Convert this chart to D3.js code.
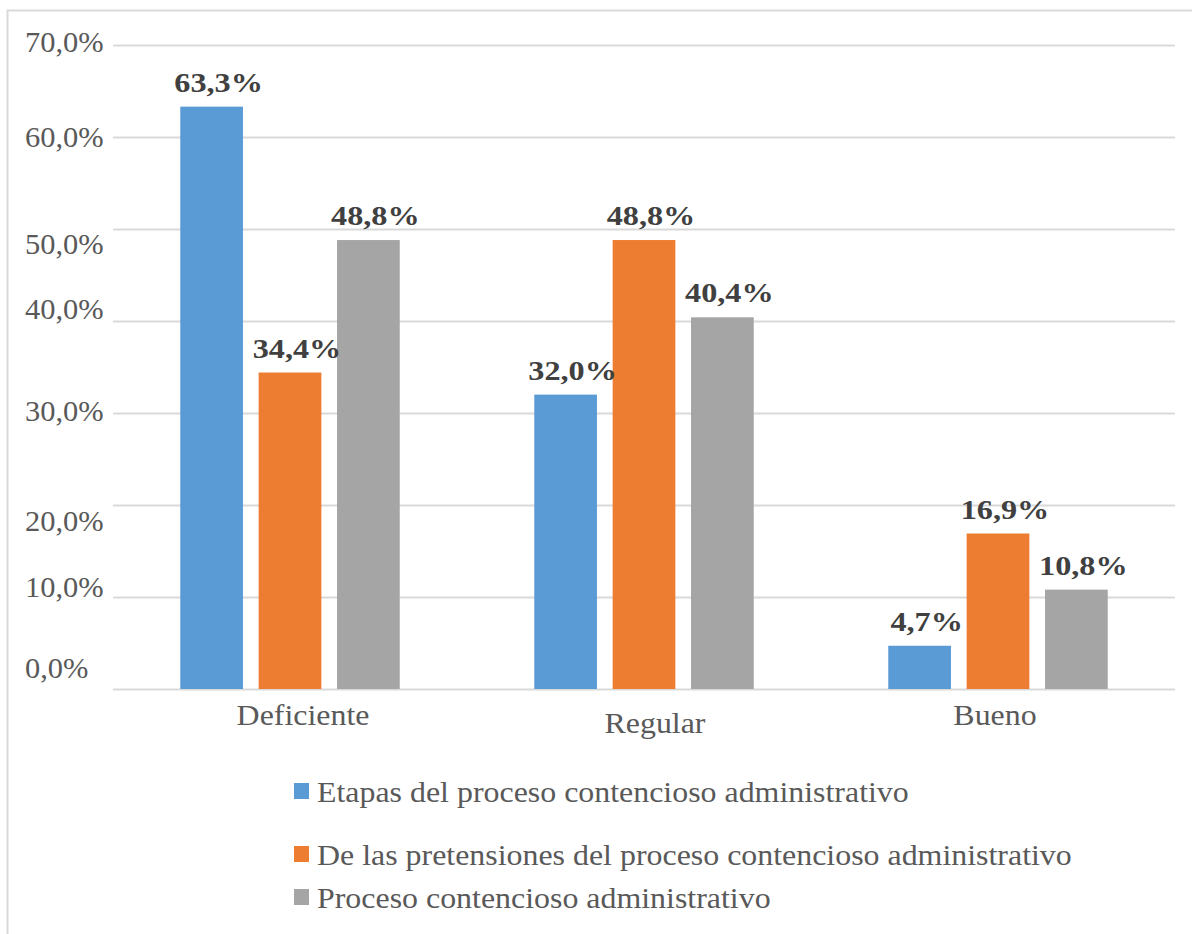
<!DOCTYPE html>
<html><head><meta charset="utf-8">
<script src="https://cdn.jsdelivr.net/npm/d3@7"></script>
<style>body{margin:0;background:#fff}svg{display:block}</style>
</head><body>
<script>
const categories = ["Deficiente", "Regular", "Bueno"];
const seriesNames = [
  "Etapas del proceso contencioso administrativo",
  "De las pretensiones del proceso contencioso administrativo",
  "Proceso contencioso administrativo"
];
const etapas = [63.3, 32.0, 4.7];
const pretensiones = [34.4, 48.8, 16.9];
const proceso = [48.8, 40.4, 10.8];
const tickValues = [0, 10, 20, 30, 40, 50, 60, 70];
const colors = ["#5B9BD5", "#ED7D31", "#A5A5A5"];
const seriesValues = [etapas, pretensiones, proceso];

const W = 1192, H = 934;
const svg = d3.select("body").append("svg").attr("width", W).attr("height", H);
const font = "'Liberation Serif','Times New Roman',serif";

function stretch(sel, k) {
  sel.each(function () {
    const len = this.getComputedTextLength();
    d3.select(this).attr("textLength", len * k).attr("lengthAdjust", "spacingAndGlyphs");
  });
}

// frame
svg.append("path").attr("d", `M7.5,${H} V10.5 H${W}`).attr("fill", "none").attr("stroke", "#D9D9D9").attr("stroke-width", 2);

const left = 113, right = 1175, y0 = 689, yTop = 45;
const y = d3.scaleLinear().domain([0, 70]).range([y0, yTop]);
const x0 = d3.scaleBand().domain(categories).range([left, right]).paddingInner(0.38).paddingOuter(0.19);
const x1 = d3.scaleBand().domain(d3.range(3)).range([0, x0.bandwidth()]).paddingInner(0.2);

// gridlines
const grid = svg.append("g").attr("transform", `translate(${left},0)`)
  .call(d3.axisLeft(y).tickValues(tickValues).tickSize(-(right - left)).tickFormat(""));
grid.select(".domain").remove();
grid.selectAll("line").attr("stroke", "#D9D9D9").attr("stroke-width", 2);

// y tick labels (left aligned, slightly irregular vertical placement as in the original)
const tickNudge = [-21, -10, 16, -2, -12, 15, 0, -3];
const yt = svg.append("g").selectAll("text").data(tickValues).join("text")
  .attr("x", 25).attr("y", (d, i) => y(d) + tickNudge[i]).attr("dy", "0.35em")
  .attr("font-family", font).attr("font-size", 29).attr("fill", "#595959")
  .text(d => d3.format(".1f")(d).replace(".", ",") + "%");
stretch(yt, 1.05);

// bars
const groups = svg.append("g").selectAll("g").data(categories).join("g")
  .attr("transform", d => `translate(${x0(d)},0)`);
groups.selectAll("rect").data((c, ci) => seriesValues.map((s, si) => ({si, v: s[ci]}))).join("rect")
  .attr("x", d => x1(d.si)).attr("width", x1.bandwidth())
  .attr("y", d => y(d.v)).attr("height", d => y0 - y(d.v))
  .attr("fill", d => colors[d.si]);
const dl = groups.selectAll("text").data((c, ci) => seriesValues.map((s, si) => ({si, v: s[ci]}))).join("text")
  .attr("x", d => x1(d.si) + x1.bandwidth() / 2 + 7).attr("y", d => y(d.v) - 15)
  .attr("text-anchor", "middle").attr("font-family", font).attr("font-size", 28)
  .attr("font-weight", "bold").attr("fill", "#404040")
  .text(d => d3.format(".1f")(d.v).replace(".", ",") + "%");
stretch(dl, 1.15);

// x axis labels
const xa = svg.append("g").attr("transform", `translate(0,${y0})`)
  .call(d3.axisBottom(x0).tickSize(0).tickPadding(14));
xa.select(".domain").remove();
const xt = xa.selectAll("text").attr("font-family", font).attr("font-size", 29).attr("fill", "#595959")
  .attr("dx", (d, i) => [13, 11, -3][i]).attr("y", (d, i) => [36, 44, 36][i]).attr("dy", 0);
stretch(xt, 1.1);

// legend
const legY = [802, 865, 908];
const leg = svg.append("g").selectAll("g").data(seriesNames).join("g");
leg.append("rect").attr("x", 294).attr("y", (d, i) => legY[i] - 19).attr("width", 15).attr("height", 16)
  .attr("fill", (d, i) => colors[i]);
const lt = leg.append("text").attr("x", 317).attr("y", (d, i) => legY[i])
  .attr("font-family", font).attr("font-size", 29).attr("fill", "#595959").text(d => d);
stretch(lt, 1.10);
</script>
</body></html>
